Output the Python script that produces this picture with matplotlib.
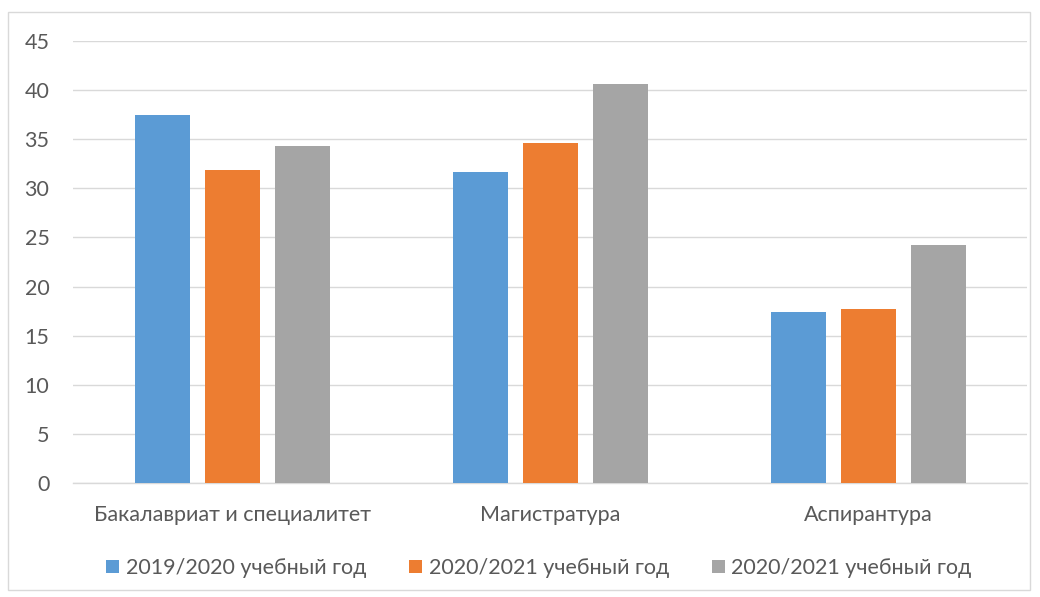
import matplotlib
matplotlib.use("Agg")
import matplotlib.pyplot as plt
from matplotlib.patches import Rectangle, Patch
import numpy as np

categories = ["Бакалавриат и специалитет", "Магистратура", "Аспирантура"]
series_names = ["2019/2020 учебный год", "2020/2021 учебный год", "2020/2021 учебный год"]
values_2019 = [37.5, 31.7, 17.4]
values_2020a = [31.9, 34.6, 17.7]
values_2020b = [34.3, 40.6, 24.2]
colors = ["#5B9BD5", "#ED7D31", "#A5A5A5"]
yticks = [0, 5, 10, 15, 20, 25, 30, 35, 40, 45]

plt.rcParams['font.family'] = ['Lato', 'DejaVu Sans']
text_color = "#595959"
fs = 15.5

W, H = 1040, 597
fig = plt.figure(figsize=(W / 100, H / 100), dpi=100)
fig.patches.append(Rectangle((8 / W, 1 - 590 / H), (1030 - 8) / W, (590 - 12) / H,
                             transform=fig.transFigure, fill=False,
                             edgecolor="#D9D9D9", linewidth=1.0))

left, right, top, bottom = 73, 1027, 41, 483
ax = fig.add_axes([left / W, 1 - bottom / H, (right - left) / W, (bottom - top) / H])

x = np.arange(len(categories))
bw = 55 / 318
step = 70 / 318
all_vals = [values_2019, values_2020a, values_2020b]
for i, (vals, c, name) in enumerate(zip(all_vals, colors, series_names)):
    ax.bar(x + (i - 1) * step, vals, width=bw, color=c, label=name, zorder=3)

ax.set_xlim(-0.5, len(categories) - 0.5)
ax.set_ylim(0, 45)
ax.set_yticks(yticks)
ax.set_yticklabels([str(v) for v in yticks])
ax.set_xticks(x)
ax.set_xticklabels(categories)
ax.grid(axis="y", color="#D9D9D9", linewidth=1.0, zorder=0)
for s in ["top", "right", "left"]:
    ax.spines[s].set_visible(False)
ax.spines["bottom"].set_color("#D9D9D9")
ax.spines["bottom"].set_linewidth(1.0)
ax.tick_params(axis="both", length=0, colors=text_color, labelsize=fs)
ax.tick_params(axis="y", pad=17)
ax.tick_params(axis="x", pad=16)

handles = [Patch(facecolor=c, edgecolor="none") for c in colors]
fig.legend(handles, series_names, loc="center", bbox_to_anchor=(539 / W, 1 - 568 / H),
           ncol=3, frameon=False, fontsize=fs, labelcolor=text_color,
           handlelength=0.6, handleheight=0.6, handletextpad=0.3, columnspacing=2.0)

fig.savefig("out.png", dpi=100)
